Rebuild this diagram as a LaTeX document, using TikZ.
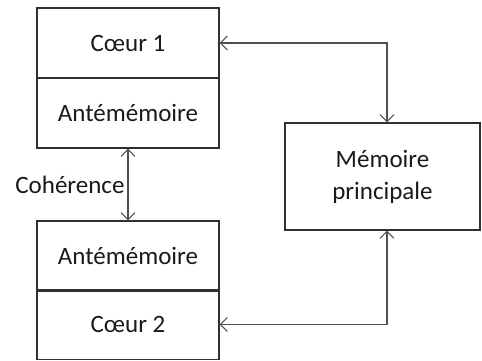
\documentclass[tikz,border=0pt]{standalone}
\usepackage{fontspec}
\setmainfont{Carlito}
\usetikzlibrary{arrows.meta}
\definecolor{boxline}{HTML}{303030}
\definecolor{wire}{HTML}{505050}
\definecolor{txt}{HTML}{1A1A1A}
\begin{document}
\begin{tikzpicture}[x=1pt,y=-1pt,
  cell/.style={draw=boxline, line width=1.1pt, rectangle, minimum width=182pt,
    minimum height=70pt, inner sep=0pt, font=\fontsize{25}{30}\selectfont, text=txt},
  mem/.style={cell, minimum width=195pt, minimum height=107pt, align=center},
  link/.style={draw=wire, line width=1.1pt,
    {Straight Barb[length=7pt,width=14pt,line width=1.1pt]}-{Straight Barb[length=7pt,width=14pt,line width=1.1pt]}}]
  \useasboundingbox (0,0) rectangle (482,360);
  % first core with its cache
  \node[cell] (c1) at (128,43) {Cœur 1};
  \node[cell] (a1) at (128,113) {Antémémoire};
  % second core with its cache
  \node[cell] (a2) at (128,256) {Antémémoire};
  \node[cell] (c2) at (128,324.5) {Cœur 2};
  % main memory
  \node[mem] (m) at (382.5,176.5) {Mémoire\\[2pt]principale};
  % connectors
  \coordinate (k1) at (387,43);
  \coordinate (k2) at (387,324.5);
  \draw[link] (c1.east) -- (k1) -- (k1 |- m.north);
  \draw[link] (c2.east) -- (k2) -- (k2 |- m.south);
  \draw[link] (a1.south) -- (a2.north)
    node[midway, left=3pt, inner sep=0pt, font=\fontsize{25}{30}\selectfont, text=txt] (coh) {Cohérence};
\end{tikzpicture}
\end{document}
